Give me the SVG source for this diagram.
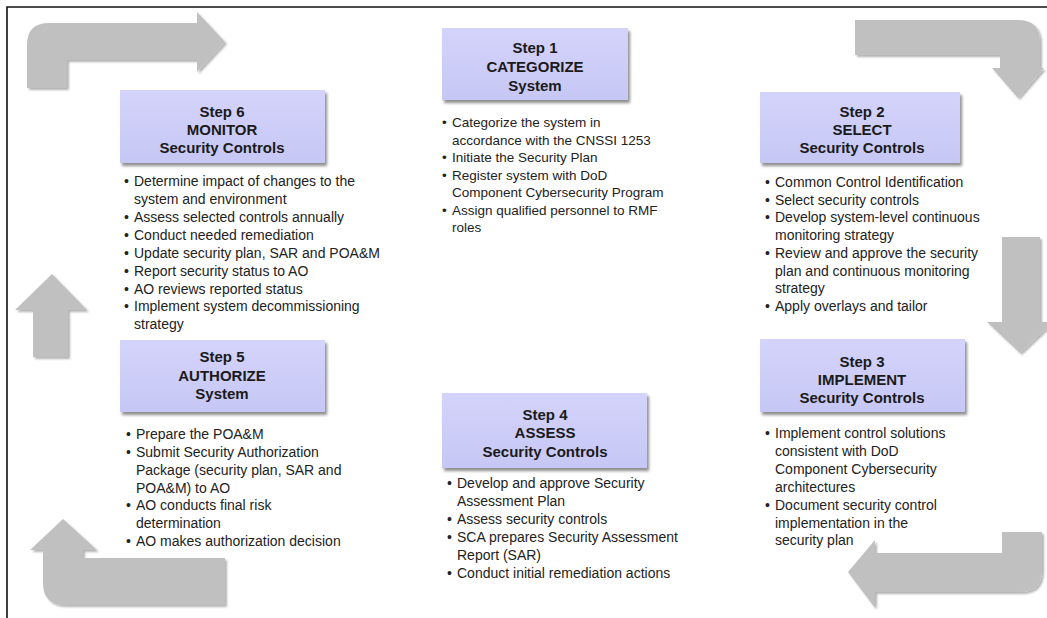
<svg xmlns="http://www.w3.org/2000/svg" width="1047" height="618" viewBox="0 0 1047 618">
<defs>
<linearGradient id="boxg" x1="0" y1="0" x2="0" y2="1">
<stop offset="0" stop-color="#d3d3fb"/>
<stop offset="1" stop-color="#c7c7f5"/>
</linearGradient>
<filter id="sh" x="-10%" y="-10%" width="125%" height="130%">
<feGaussianBlur in="SourceAlpha" stdDeviation="1.5"/>
<feOffset dx="2" dy="3" result="b"/>
<feComponentTransfer><feFuncA type="linear" slope="0.45"/></feComponentTransfer>
<feMerge><feMergeNode/><feMergeNode in="SourceGraphic"/></feMerge>
</filter>
<filter id="ash" x="-10%" y="-10%" width="125%" height="130%">
<feGaussianBlur in="SourceAlpha" stdDeviation="1.2"/>
<feOffset dx="1.5" dy="2" result="b"/>
<feComponentTransfer><feFuncA type="linear" slope="0.3"/></feComponentTransfer>
<feMerge><feMergeNode/><feMergeNode in="SourceGraphic"/></feMerge>
</filter>
</defs>
<style>
.box{fill:url(#boxg);filter:url(#sh)}
.t{font-family:"Liberation Sans",Arial,sans-serif;font-weight:bold;font-size:15px;fill:#1a1a1a;text-anchor:middle}
.b{font-family:"Liberation Sans",Arial,sans-serif;font-size:14px;fill:#222}
.s{font-size:13.5px}
.arr{fill:#c0c0c0;filter:url(#ash)}
</style>
<rect width="1047" height="618" fill="#fff"/>
<path d="M7,618 L7,7 L1047,7" fill="none" stroke="#111" stroke-width="1.6"/>

<g id="connectors">
<path class="arr" d="M27,88 L27,45 Q27,23 49,23 L197,23 L197,12 L225,42 L197,72 L197,60 L67,60 L67,88 Z"/>
<path class="arr" d="M855,20 L1018,20 Q1040,20 1040,42 L1040,68 L1044,68 L1018,98 L992,68 L1000,68 L1000,55 L855,55 Z"/>
<path class="arr" d="M1002,237 L1040,237 L1040,322 L1053,322 L1020,353 L987,322 L1002,322 Z"/>
<path class="arr" d="M1002,532 L1042,532 L1042,570 Q1042,592 1020,592 L875,592 L875,608 L848,572 L875,540 L875,553 L1002,553 Z"/>
<path class="arr" d="M225,558 L225,605 L65,605 Q43,605 43,583 L43,550 L30,550 L63,519 L97,550 L83,550 L83,558 Z"/>
<path class="arr" d="M33,357 L33,310 L15,310 L52,274 L87,310 L68,310 L68,357 Z"/>
</g>

<g id="step1">
<rect class="box" x="442" y="28" width="186" height="72"/>
<text class="t" x="535" y="53">Step 1</text>
<text class="t" x="535" y="72">CATEGORIZE</text>
<text class="t" x="535" y="91">System</text>
<text class="b s"><tspan x="442" y="127">•</tspan><tspan x="452" y="127">Categorize the system in</tspan><tspan x="452" y="144.5">accordance with the CNSSI 1253</tspan><tspan x="442" y="162">•</tspan><tspan x="452" y="162">Initiate the Security Plan</tspan><tspan x="442" y="179.5">•</tspan><tspan x="452" y="179.5">Register system with DoD</tspan><tspan x="452" y="197">Component Cybersecurity Program</tspan><tspan x="442" y="214.5">•</tspan><tspan x="452" y="214.5">Assign qualified personnel to RMF</tspan><tspan x="452" y="232">roles</tspan></text>
</g>

<g id="step2">
<rect class="box" x="760" y="92" width="200" height="71"/>
<text class="t" x="862" y="117">Step 2</text>
<text class="t" x="862" y="135">SELECT</text>
<text class="t" x="862" y="153">Security Controls</text>
<text class="b"><tspan x="765" y="187">•</tspan><tspan x="775" y="187">Common Control Identification</tspan><tspan x="765" y="204.5">•</tspan><tspan x="775" y="204.5">Select security controls</tspan><tspan x="765" y="222">•</tspan><tspan x="775" y="222">Develop system-level continuous</tspan><tspan x="775" y="240">monitoring strategy</tspan><tspan x="765" y="258">•</tspan><tspan x="775" y="258">Review and approve the security</tspan><tspan x="775" y="275.5">plan and continuous monitoring</tspan><tspan x="775" y="293">strategy</tspan><tspan x="765" y="311">•</tspan><tspan x="775" y="311">Apply overlays and tailor</tspan></text>
</g>

<g id="step3">
<rect class="box" x="760" y="339" width="205" height="73"/>
<text class="t" x="862" y="367">Step 3</text>
<text class="t" x="862" y="385">IMPLEMENT</text>
<text class="t" x="862" y="403">Security Controls</text>
<text class="b"><tspan x="765" y="438">•</tspan><tspan x="775" y="438">Implement control solutions</tspan><tspan x="775" y="456">consistent with DoD</tspan><tspan x="775" y="474">Component Cybersecurity</tspan><tspan x="775" y="492">architectures</tspan><tspan x="765" y="510">•</tspan><tspan x="775" y="510">Document security control</tspan><tspan x="775" y="527.5">implementation in the</tspan><tspan x="775" y="545">security plan</tspan></text>
</g>

<g id="step4">
<rect class="box" x="442" y="393" width="205" height="75"/>
<text class="t" x="545" y="420">Step 4</text>
<text class="t" x="545" y="438">ASSESS</text>
<text class="t" x="545" y="457">Security Controls</text>
<text class="b"><tspan x="447" y="488">•</tspan><tspan x="457" y="488">Develop and approve Security</tspan><tspan x="457" y="506">Assessment Plan</tspan><tspan x="447" y="524">•</tspan><tspan x="457" y="524">Assess security controls</tspan><tspan x="447" y="542">•</tspan><tspan x="457" y="542">SCA prepares Security Assessment</tspan><tspan x="457" y="560">Report (SAR)</tspan><tspan x="447" y="578">•</tspan><tspan x="457" y="578">Conduct initial remediation actions</tspan></text>
</g>

<g id="step5">
<rect class="box" x="120" y="340" width="205" height="72"/>
<text class="t" x="222" y="362">Step 5</text>
<text class="t" x="222" y="381">AUTHORIZE</text>
<text class="t" x="222" y="399">System</text>
<text class="b"><tspan x="126" y="439">•</tspan><tspan x="136" y="439">Prepare the POA&amp;M</tspan><tspan x="126" y="457">•</tspan><tspan x="136" y="457">Submit Security Authorization</tspan><tspan x="136" y="475">Package (security plan, SAR and</tspan><tspan x="136" y="493">POA&amp;M) to AO</tspan><tspan x="126" y="510">•</tspan><tspan x="136" y="510">AO conducts final risk</tspan><tspan x="136" y="528">determination</tspan><tspan x="126" y="546">•</tspan><tspan x="136" y="546">AO makes authorization decision</tspan></text>
</g>

<g id="step6">
<rect class="box" x="120" y="90" width="205" height="73"/>
<text class="t" x="222" y="117">Step 6</text>
<text class="t" x="222" y="135">MONITOR</text>
<text class="t" x="222" y="153">Security Controls</text>
<text class="b"><tspan x="124" y="186">•</tspan><tspan x="134" y="186">Determine impact of changes to the</tspan><tspan x="134" y="204">system and environment</tspan><tspan x="124" y="222">•</tspan><tspan x="134" y="222">Assess selected controls annually</tspan><tspan x="124" y="240">•</tspan><tspan x="134" y="240">Conduct needed remediation</tspan><tspan x="124" y="258">•</tspan><tspan x="134" y="258">Update security plan, SAR and POA&amp;M</tspan><tspan x="124" y="276">•</tspan><tspan x="134" y="276">Report security status to AO</tspan><tspan x="124" y="294">•</tspan><tspan x="134" y="294">AO reviews reported status</tspan><tspan x="124" y="311">•</tspan><tspan x="134" y="311">Implement system decommissioning</tspan><tspan x="134" y="329">strategy</tspan></text>
</g>
</svg>
